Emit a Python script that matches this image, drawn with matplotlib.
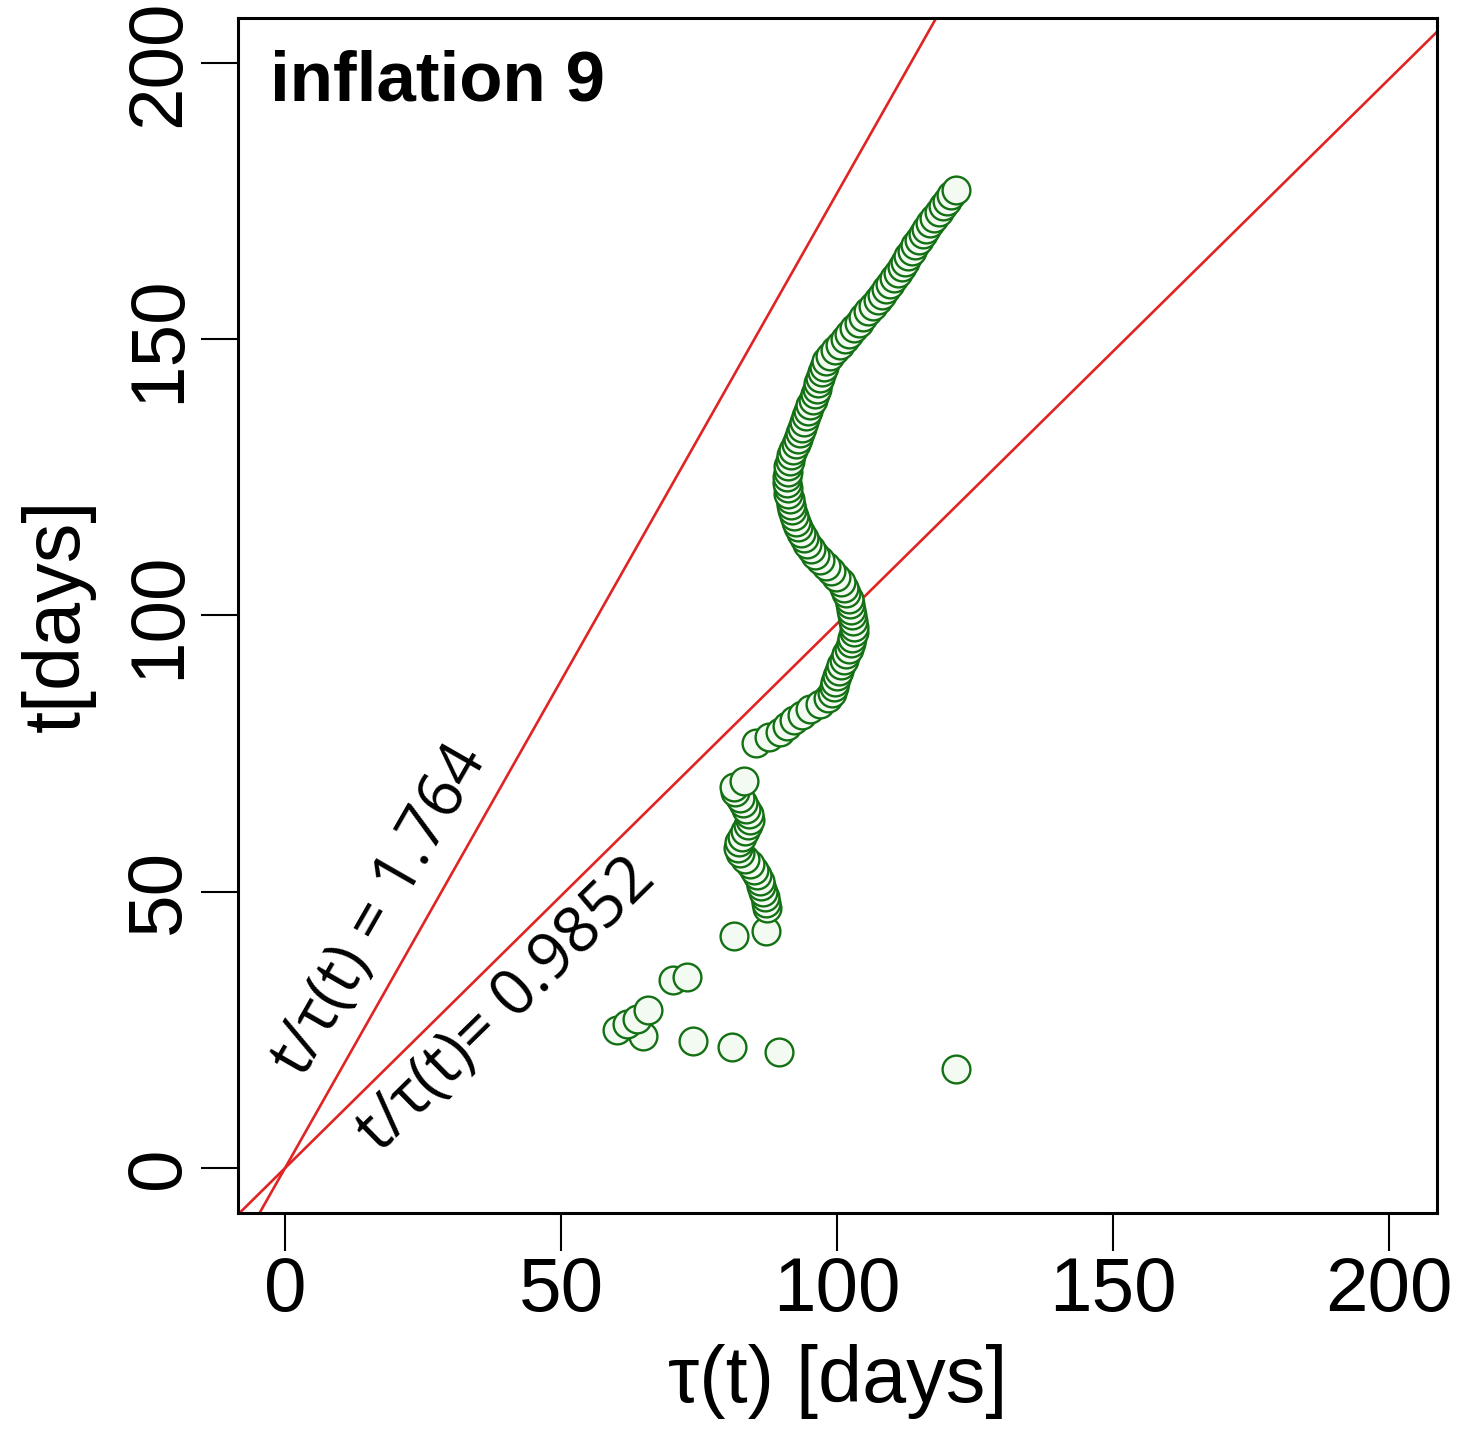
import numpy as np
import matplotlib
matplotlib.use("Agg")
import matplotlib.pyplot as plt

# tau(t), t in days
t_early = [18, 21, 22, 23, 24, 25, 26, 27, 28.6, 34, 34.6, 42, 43]
tau_early = [121.5, 89.5, 81.0, 74.0, 64.9, 60.1, 61.9, 63.7, 65.8, 70.3, 72.9, 81.3, 87.1]

t_mid = list(range(47, 71))
tau_mid = [87.3, 87.2, 87.0, 86.6, 86.2, 86.0, 85.5, 84.9, 84.2, 83.3, 82.5, 82.0,
           82.2, 82.8, 83.4, 83.8, 84.2, 84.0, 83.6, 83.0, 82.5, 81.5, 81.3, 83.2]

t_late = list(range(77, 178))
tau_late = [85.4, 87.7, 89.7, 91.0, 92.2, 93.6, 95.2, 97.0, 98.3, 99.1,
            99.4, 99.7, 100.0, 100.4, 100.8, 101.2, 101.7, 102.1, 102.5, 102.8,
            103.0, 103.0, 102.9, 102.7, 102.5, 102.3, 102.1, 101.7, 101.3, 100.7,
            99.8, 99.0, 98.0, 97.0, 96.0, 95.3, 94.6, 94.0, 93.4, 93.0,
            92.6, 92.2, 91.9, 91.6, 91.4, 91.2, 91.1, 91.0, 91.0, 91.1,
            91.2, 91.4, 91.7, 92.1, 92.5, 92.9, 93.3, 93.7, 94.0, 94.4,
            94.8, 95.2, 95.6, 96.0, 96.3, 96.6, 96.9, 97.2, 97.6, 98.0,
            98.7, 99.6, 100.5, 101.4, 102.2, 103.0, 103.9, 104.8, 105.7, 106.6,
            107.4, 108.1, 108.9, 109.6, 110.3, 111.0, 111.7, 112.3, 112.9, 113.5,
            114.2, 114.9, 115.6, 116.2, 116.9, 117.6, 118.4, 119.2, 119.9, 120.6,
            121.5]

slopes = [1.764, 0.9852]
ticks = [0, 50, 100, 150, 200]

t = np.array(t_early + t_mid + t_late)
tau = np.array(tau_early + tau_mid + tau_late)

plt.rcParams['font.family'] = ['Liberation Sans', 'DejaVu Sans']

fig = plt.figure(figsize=(14.73, 14.29), dpi=100)
ax = fig.add_axes([0.1616, 0.1512, 0.8140, 0.8362])

for s in slopes:
    ax.axline((0, 0), slope=s, color='#e02424', lw=1.9, zorder=1)

ax.scatter(tau, t, s=20**2, facecolors='#f2faf2', edgecolors='#137013',
           linewidths=1.7, zorder=2)

ax.set_xlim(-8.5, 208.7)
ax.set_ylim(-8.1, 208.1)
ax.set_xticks(ticks)
ax.set_yticks(ticks)
ax.tick_params(length=27, width=1.5, labelsize=55, direction='out')
ax.tick_params(axis='x', pad=4)
ax.tick_params(axis='y', pad=4)
for lab in ax.get_yticklabels():
    lab.set_rotation(90)
    lab.set_va('center')
for sp in ax.spines.values():
    sp.set_linewidth(2.2)

ax.set_xlabel('τ(t) [days]', fontsize=57, labelpad=12)
ax.set_ylabel('t[days]', fontsize=57, labelpad=20)

ax.text(0.027, 0.931, 'inflation 9', transform=ax.transAxes, fontsize=51,
        fontweight='bold', ha='left', va='baseline')

ax.text(17.2, 46.7, 't/τ(t) = 1.764', rotation=60.2, rotation_mode='anchor',
        ha='center', va='center', fontsize=46, family=['Open Sans', 'DejaVu Sans'])
ax.text(40.2, 29.5, 't/τ(t)= 0.9852', rotation=44.5, rotation_mode='anchor',
        ha='center', va='center', fontsize=46, family=['Open Sans', 'DejaVu Sans'])

fig.savefig('out.png', dpi=100, facecolor='white')
